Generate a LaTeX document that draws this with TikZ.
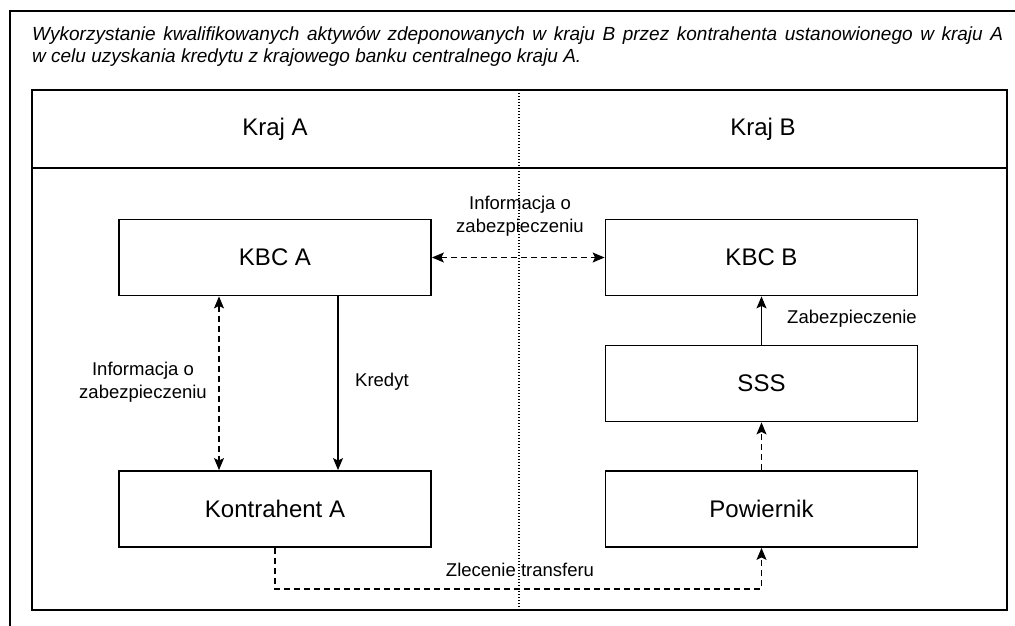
\documentclass[tikz,border=0pt]{standalone}
\usepackage{fontspec}
\setmainfont{Liberation Sans}
\usetikzlibrary{arrows.meta}
\begin{document}
\begin{tikzpicture}[x=1pt,y=-1pt,
  >={Stealth[length=12pt,width=10pt,inset=2.5pt]},
  box/.style={draw, line width=1.8pt, minimum width=312pt, minimum height=76pt, inner sep=0pt, font=\fontsize{24}{28}\selectfont},
  lbl/.style={font=\fontsize{18.5}{23}\selectfont, align=center, inner sep=0pt},
  big/.style={font=\fontsize{24}{28}\selectfont, inner sep=0pt},
  conn/.style={line width=1.2pt},
  dconn/.style={line width=1.2pt, dash pattern=on 6pt off 4pt},
  frame/.style={line width=2pt}]
\useasboundingbox (0,0) rectangle (1015,626);
% outer frame (only left and top visible)
\draw[frame] (10,630) -- (10,11) -- (1020,11);
% title
\node[anchor=base west, inner sep=0pt, font=\fontsize{19}{22}\selectfont\itshape] (t1) at (32,41)
  {\hbox to 971pt{Wykorzystanie kwalifikowanych aktywów zdeponowanych w kraju B przez kontrahenta ustanowionego w kraju A}};
\node[anchor=base west, inner sep=0pt, font=\fontsize{19}{22}\selectfont\itshape] (t2) at (32,63)
  {w celu uzyskania kredytu z krajowego banku centralnego kraju A.};
% inner frame
\draw[frame] (32,90) rectangle (1007,610);
\draw[frame] (32,168) -- (1007,168);
% dotted separator
\draw[line width=1.3pt, dash pattern=on 1.3pt off 1.7pt] (519,90) -- (519,610);
% headers
\node[big] (ka) at (275,129) {Kraj A};
\node[big] (kb) at (763,129) {Kraj B};
% boxes
\node[box] (kbca) at (275,257.5) {KBC A};
\node[box] (kbcb) at (761.5,257.5) {KBC B};
\node[box] (sss) at (761.5,383.5) {SSS};
\node[box] (kontr) at (275,509) {Kontrahent A};
\node[box] (pow) at (761.5,509) {Powiernik};
% connectors
\draw[dconn,<->] (kbca.east) -- (kbcb.west);
\draw[dconn,<->] ([xshift=-56pt]kbca.south) -- ([xshift=-56pt]kontr.north);
\draw[conn,->] ([xshift=63pt]kbca.south) -- ([xshift=63pt]kontr.north);
\draw[conn,->] (sss.north) -- (kbcb.south);
\draw[dconn,->] (pow.north) -- (sss.south);
\draw[dconn,->] (kontr.south) -- ([yshift=-41pt]kontr.south) -| (pow.south);
% labels
\node[lbl] (l1) at (520,216) {Informacja o\\zabezpieczeniu};
\node[lbl] (l2) at (143,382) {Informacja o\\zabezpieczeniu};
\node[lbl, anchor=west] (l3) at (355,382) {Kredyt};
\node[lbl, anchor=west] (l4) at (787,319) {Zabezpieczenie};
\node[lbl] (l5) at (520,570) {Zlecenie transferu};
\end{tikzpicture}
\end{document}
